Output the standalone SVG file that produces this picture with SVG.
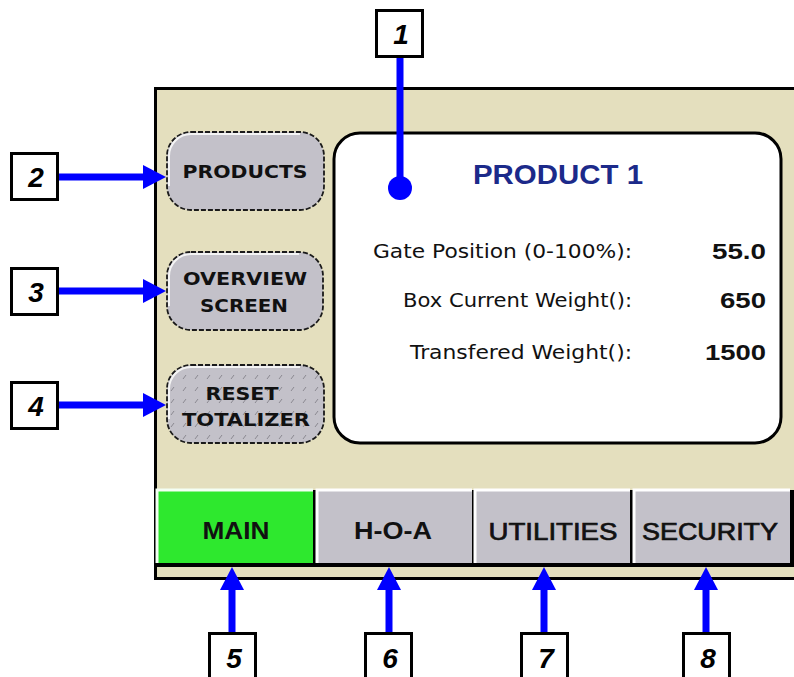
<svg xmlns="http://www.w3.org/2000/svg" width="794" height="677" viewBox="0 0 794 677">
<style>
.lbl{fill:#fff;stroke:#000;stroke-width:3}
.num{font-family:"Liberation Sans",Arial,sans-serif;font-weight:bold;font-style:italic;font-size:28px;fill:#000;text-anchor:middle}
.side{fill:#c3c1c9;stroke:#1a1a1a;stroke-width:1.8;stroke-dasharray:5 2}
.hl{fill:none;stroke:#f4f4f4;stroke-width:2}
.sidet{font-family:"DejaVu Sans",sans-serif;font-weight:bold;font-size:18px;fill:#111;text-anchor:middle}
.tab{fill:#c3c1c9}
.tabt{font-family:"Liberation Sans",Arial,sans-serif;font-size:24px;fill:#111;text-anchor:middle}
.dl{font-family:"DejaVu Sans",sans-serif;font-size:20px;fill:#111;text-anchor:end}
.dv{font-family:"Liberation Sans",Arial,sans-serif;font-weight:bold;font-size:22px;fill:#111;text-anchor:end}
.conn{stroke:#0000ff;stroke-width:7;fill:none}
.head{fill:#0000ff}
</style>
<defs>
<pattern id="hatch" width="12" height="12" patternUnits="userSpaceOnUse">
<rect width="12" height="12" fill="#c3c1c9"/>
<path d="M3 7 L6 3" stroke="#8a8890" stroke-width="1"/>
</pattern>
</defs>
<rect width="794" height="677" fill="#ffffff"/>
<g id="panel">
<rect x="155.5" y="88.5" width="660" height="490" fill="#e4dfbe" stroke="#000" stroke-width="3"/>
</g>
<g id="display">
<rect x="334" y="133" width="447" height="310" rx="26" ry="26" fill="#ffffff" stroke="#000" stroke-width="3"/>
<text x="558" y="184" font-family="Liberation Sans,Arial,sans-serif" font-weight="bold" font-size="27" fill="#1c2a8a" text-anchor="middle" textLength="170" lengthAdjust="spacingAndGlyphs">PRODUCT 1</text>
<text class="dl" x="632" y="258" textLength="259" lengthAdjust="spacingAndGlyphs">Gate Position (0-100%):</text>
<text class="dl" x="632" y="307" textLength="229" lengthAdjust="spacingAndGlyphs">Box Current Weight():</text>
<text class="dl" x="632" y="359" textLength="222" lengthAdjust="spacingAndGlyphs">Transfered Weight():</text>
<text class="dv" x="766" y="259" textLength="54" lengthAdjust="spacingAndGlyphs">55.0</text>
<text class="dv" x="766" y="308" textLength="46" lengthAdjust="spacingAndGlyphs">650</text>
<text class="dv" x="766" y="360" textLength="61" lengthAdjust="spacingAndGlyphs">1500</text>
</g>
<g id="btn-products">
<rect class="side" x="167" y="132" width="157" height="78" rx="24" ry="24"/>
<path class="hl" d="M169 186 V156 A22 22 0 0 1 191 134 H300"/>
<text class="sidet" x="245" y="178" textLength="125" lengthAdjust="spacingAndGlyphs">PRODUCTS</text>
</g>
<g id="btn-overview">
<rect class="side" x="167" y="252" width="156" height="78" rx="24" ry="24"/>
<path class="hl" d="M169 306 V276 A22 22 0 0 1 191 254 H299"/>
<text class="sidet" x="245" y="285" textLength="124" lengthAdjust="spacingAndGlyphs">OVERVIEW</text>
<text class="sidet" x="244" y="312" textLength="88" lengthAdjust="spacingAndGlyphs">SCREEN</text>
</g>
<g id="btn-reset">
<rect class="side" x="167" y="365" width="157" height="78" rx="24" ry="24" style="fill:url(#hatch)"/>
<path class="hl" d="M169 419 V389 A22 22 0 0 1 191 367 H300"/>
<text class="sidet" x="242" y="400" textLength="73" lengthAdjust="spacingAndGlyphs">RESET</text>
<text class="sidet" x="246" y="426" textLength="128" lengthAdjust="spacingAndGlyphs">TOTALIZER</text>
</g>
<g id="tab-main">
<rect x="157" y="490" width="160" height="77" fill="#000"/>
<rect x="157" y="490" width="156" height="73" fill="#2ee82e"/>
<path d="M157 563 V490 H313" stroke="#f4fff4" stroke-width="3" fill="none"/>
<text class="tabt" x="236" y="539" font-weight="bold" fill="#163016" textLength="67" lengthAdjust="spacingAndGlyphs">MAIN</text>
</g>
<g id="tab-hoa">
<rect x="317" y="490" width="159" height="77" fill="#000"/>
<rect x="317" y="490" width="155" height="73" class="tab"/>
<path d="M317 563 V490 H472" stroke="#ffffff" stroke-width="3" fill="none"/>
<text class="tabt" x="393" y="539" font-weight="bold" textLength="78" lengthAdjust="spacingAndGlyphs">H-O-A</text>
</g>
<g id="tab-utilities">
<rect x="475" y="490" width="159" height="77" fill="#000"/>
<rect x="475" y="490" width="155" height="73" class="tab"/>
<path d="M475 563 V490 H630" stroke="#ffffff" stroke-width="3" fill="none"/>
<text class="tabt" x="553" y="540" stroke="#111" stroke-width="0.7" textLength="129" lengthAdjust="spacingAndGlyphs">UTILITIES</text>
</g>
<g id="tab-security">
<rect x="634" y="490" width="160" height="77" fill="#000"/>
<rect x="634" y="490" width="156" height="73" class="tab"/>
<path d="M634 563 V490 H790" stroke="#ffffff" stroke-width="3" fill="none"/>
<text class="tabt" x="710" y="540" stroke="#111" stroke-width="0.7" textLength="136" lengthAdjust="spacingAndGlyphs">SECURITY</text>
</g>
<g id="connectors">
<line class="conn" x1="400" y1="56" x2="400" y2="188"/>
<circle class="head" cx="400" cy="188" r="12"/>
<line class="conn" x1="57" y1="177" x2="145" y2="177"/>
<polygon class="head" points="143,165 166,177 143,189"/>
<line class="conn" x1="57" y1="291" x2="145" y2="291"/>
<polygon class="head" points="143,279 166,291 143,303"/>
<line class="conn" x1="57" y1="405" x2="145" y2="405"/>
<polygon class="head" points="143,393 166,405 143,417"/>
<line class="conn" x1="232" y1="633" x2="232" y2="588"/>
<polygon class="head" points="220,590 232,567 244,590"/>
<line class="conn" x1="389" y1="633" x2="389" y2="588"/>
<polygon class="head" points="377,590 389,567 401,590"/>
<line class="conn" x1="544" y1="633" x2="544" y2="588"/>
<polygon class="head" points="532,590 544,567 556,590"/>
<line class="conn" x1="706" y1="633" x2="706" y2="588"/>
<polygon class="head" points="694,590 706,567 718,590"/>
</g>
<g id="label-1"><rect class="lbl" x="376.5" y="10.5" width="46" height="46"/><text class="num" x="401" y="44">1</text></g>
<g id="label-2"><rect class="lbl" x="11.5" y="153.5" width="46" height="46"/><text class="num" x="36" y="187">2</text></g>
<g id="label-3"><rect class="lbl" x="11.5" y="268.5" width="46" height="46"/><text class="num" x="36" y="302">3</text></g>
<g id="label-4"><rect class="lbl" x="11.5" y="382.5" width="46" height="46"/><text class="num" x="36" y="416">4</text></g>
<g id="label-5"><rect class="lbl" x="209.5" y="633.5" width="46" height="50"/><text class="num" x="234" y="668">5</text></g>
<g id="label-6"><rect class="lbl" x="365.5" y="633.5" width="46" height="50"/><text class="num" x="390" y="668">6</text></g>
<g id="label-7"><rect class="lbl" x="521.5" y="633.5" width="46" height="50"/><text class="num" x="546" y="668">7</text></g>
<g id="label-8"><rect class="lbl" x="683.5" y="633.5" width="46" height="50"/><text class="num" x="708" y="668">8</text></g>
</svg>
